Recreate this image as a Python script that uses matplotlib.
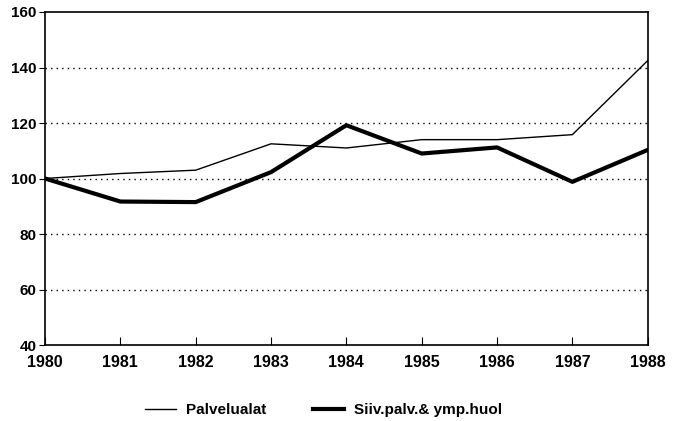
import matplotlib
matplotlib.use("Agg")
import matplotlib.pyplot as plt
from matplotlib.lines import Line2D

years = [1980, 1981, 1982, 1983, 1984, 1985, 1986, 1987, 1988]
palvelualat = [100, 101.8, 103, 112.5, 111, 114, 114, 115.8, 142.5]
siivous = [100, 91.7, 91.5, 102.3, 119.2, 109, 111.2, 98.8, 110.3]
yticks = [40, 60, 80, 100, 120, 140, 160]

plt.rcParams['font.family'] = ['Liberation Sans', 'DejaVu Sans']
plt.rcParams['font.weight'] = 'bold'

fig = plt.figure(figsize=(6.74, 4.21), dpi=100)
ax = fig.add_axes([0.0668, 0.1805, 0.8942, 0.791])

ax.plot(years, palvelualat, color='black', lw=1.0, label='Palvelualat')
ax.plot(years, siivous, color='black', lw=3.0, label='Siiv.palv.& ymp.huol')

ax.set_xlim(1980, 1988)
ax.set_ylim(40, 160)
ax.set_xticks(years)
ax.set_yticks(yticks)
ax.tick_params(axis='x', direction='in', length=6, labelsize=11.5, pad=7)
ax.tick_params(axis='y', direction='out', length=4, labelsize=11, pad=2)
for lab in ax.get_xticklabels() + ax.get_yticklabels():
    lab.set_fontweight('bold')
for y in yticks[1:-1]:
    ax.axhline(y, color='black', lw=1.0, ls=(0, (1, 3)), zorder=0)
for s in ax.spines.values():
    s.set_linewidth(1.2)

handles = [Line2D([0], [0], color='black', lw=1.0),
           Line2D([0], [0], color='black', lw=3.0)]
fig.legend(handles, ['Palvelualat', 'Siiv.palv.& ymp.huol'],
           loc='center', bbox_to_anchor=(0.48, 0.026), ncol=2, frameon=False,
           handlelength=2.0, handletextpad=0.65, columnspacing=3.1,
           prop={'size': 11, 'weight': 'bold'})

fig.savefig('out.png', dpi=100)
